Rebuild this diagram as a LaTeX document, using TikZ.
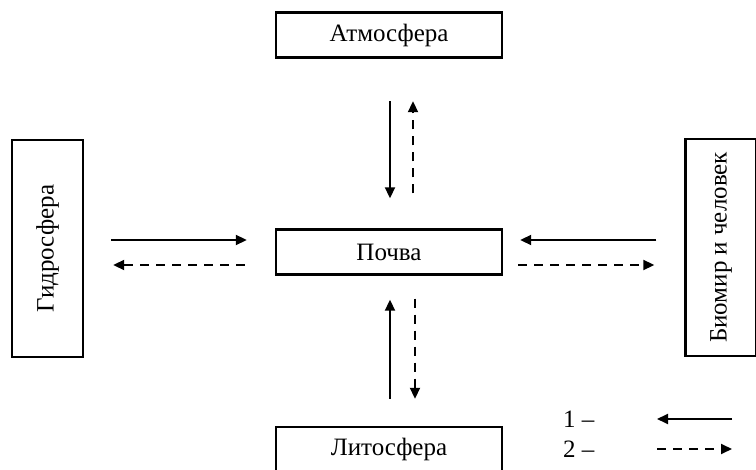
\documentclass[tikz,border=0pt]{standalone}
\usepackage{fontspec}
\setmainfont{Liberation Serif}
\usetikzlibrary{arrows.meta, positioning}

\tikzset{
  sphere/.style={draw, line width=2.4pt, minimum width=226pt, minimum height=45pt, inner sep=0pt, font=\fontsize{25}{30}\selectfont},
  vsphere/.style={sphere, minimum width=217pt, minimum height=71pt, rotate=90},
  flow/.style={line width=1.9pt, -{Triangle[length=11pt,width=10pt]}},
  back/.style={flow, dash pattern=on 9pt off 7pt},
  keytext/.style={anchor=west, inner sep=0pt, font=\fontsize{25}{30}\selectfont}
}

\begin{document}
\begin{tikzpicture}[x=1pt, y=-1pt]
    \useasboundingbox (0,0) rectangle (756,470);
    % spheres
    \node[sphere] (atmo) at (389,35) {Атмосфера};
    \node[sphere] (soil) at (389,252) {Почва};
    \node[sphere] (litho) at (389,449.5) {Литосфера};
    \node[vsphere] (hydro) at (47.5,248.5) {Гидросфера};
    \node[vsphere] (bio) at (721,247.5) {Биомир и человек};
    % atmosphere <-> soil
    \draw[flow, shorten <=42.5pt, shorten >=30pt] ([xshift=1pt]atmo.south) -- ([xshift=1pt]soil.north);
    \draw[back, shorten <=35pt, shorten >=42.5pt] ([xshift=24pt]soil.north) -- ([xshift=24pt]atmo.south);
    % lithosphere <-> soil
    \draw[flow, shorten <=27pt, shorten >=24pt] ([xshift=1pt]litho.north) -- ([xshift=1pt]soil.south);
    \draw[back, shorten <=23pt, shorten >=27pt] ([xshift=26pt]soil.south) -- ([xshift=26pt]litho.north);
    % hydrosphere <-> soil
    \draw[flow, shorten <=27pt, shorten >=28pt] ([yshift=8.5pt]hydro.south) -- ([yshift=12pt]soil.west);
    \draw[back, shorten <=30pt, shorten >=29pt] ([yshift=-13pt]soil.west) -- ([yshift=-16.5pt]hydro.south);
    % biosphere <-> soil
    \draw[flow, shorten <=28pt, shorten >=17pt] ([yshift=7.5pt]bio.north) -- ([yshift=12pt]soil.east);
    \draw[back, shorten <=15pt, shorten >=30pt] ([yshift=-13pt]soil.east) -- ([yshift=-17.5pt]bio.north);
    % legend
    \node[keytext] (key1) at (563,419) {1 –};
    \node[keytext] (key2) at (563,449) {2 –};
    \coordinate (k1a) at (732,419);
    \coordinate (k1b) at (657,419);
    \coordinate (k2a) at (657,449);
    \coordinate (k2b) at (732,449);
    \draw[flow] (k1a) -- (k1b);
    \draw[back] (k2a) -- (k2b);
\end{tikzpicture}
\end{document}
